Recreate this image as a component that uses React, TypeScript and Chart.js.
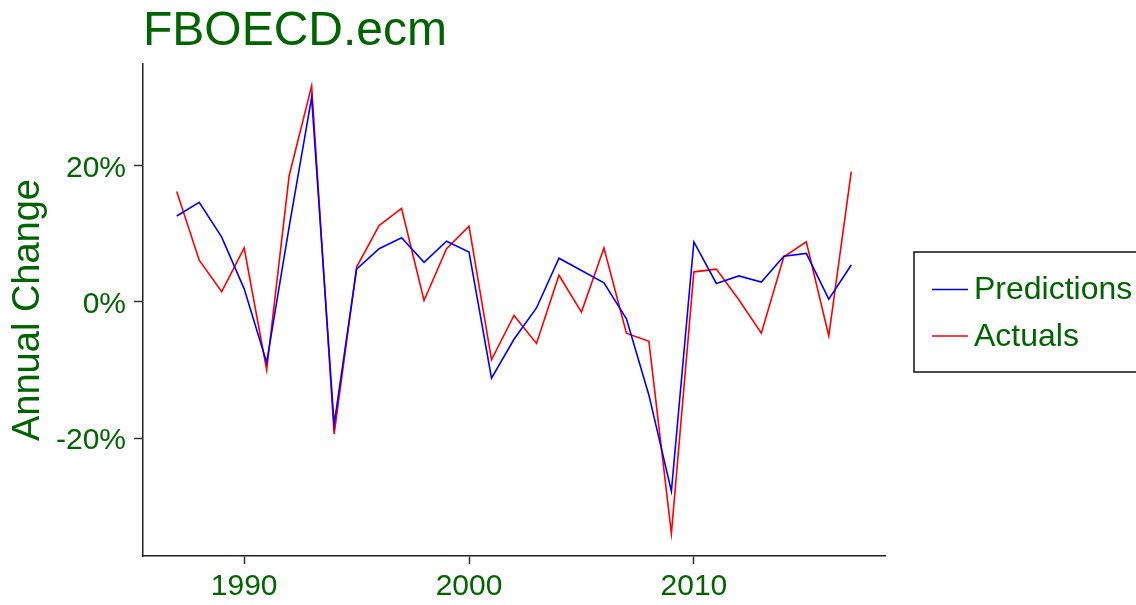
import React, { useEffect, useRef } from "react";
import { Chart, registerables } from "chart.js";

Chart.register(...registerables);

const TITLE = "FBOECD.ecm";
const Y_TITLE = "Annual Change";
const seriesLabels = ["Predictions", "Actuals"];
const seriesColors = ["#0000FF", "#FF0000"];

const years = [
  1987, 1988, 1989, 1990, 1991, 1992, 1993, 1994, 1995, 1996, 1997, 1998, 1999, 2000, 2001, 2002,
  2003, 2004, 2005, 2006, 2007, 2008, 2009, 2010, 2011, 2012, 2013, 2014, 2015, 2016, 2017,
];
const predictions = [
  12.6, 14.6, 9.5, 1.9, -8.9, 11.0, 30.0, -18.0, 4.8, 7.8, 9.4, 5.8, 8.9, 7.3, -11.2, -5.5,
  -0.9, 6.4, 4.6, 2.8, -2.5, -13.7, -27.8, 8.8, 2.7, 3.8, 2.9, 6.7, 7.1, 0.4, 5.4,
];
const actuals = [
  16.2, 6.1, 1.5, 7.9, -10.0, 18.5, 31.7, -19.4, 5.1, 11.2, 13.7, 0.2, 7.8, 11.1, -8.5, -2.0,
  -6.1, 3.9, -1.5, 7.9, -4.6, -5.8, -34.0, 4.4, 4.8, 0.3, -4.6, 6.6, 8.8, -5.0, 19.1,
];
const xTicks = [1990, 2000, 2010];
const yTicks = [-20, 0, 20];

const TEXT_COLOR = "#006400";
const FONT = "'Liberation Sans', Arial, sans-serif";

const overlayPlugin = {
  id: "overlay",
  afterDraw(chart: any) {
    const ctx = chart.ctx;
    ctx.save();
    // Title
    ctx.fillStyle = TEXT_COLOR;
    ctx.font = `48px ${FONT}`;
    ctx.textBaseline = "alphabetic";
    ctx.textAlign = "left";
    ctx.fillText(TITLE, chart.chartArea.left, 45);

    // Legend
    const boxX = 914;
    const boxY = 252;
    const boxW = 260;
    const boxH = 120;
    ctx.strokeStyle = "#111";
    ctx.lineWidth = 1.5;
    ctx.strokeRect(boxX, boxY, boxW, boxH);
    ctx.font = `32px ${FONT}`;
    ctx.textBaseline = "middle";
    chart.data.datasets.forEach((ds: any, i: number) => {
      const y = 289.5 + i * 46.5;
      ctx.strokeStyle = ds.borderColor;
      ctx.lineWidth = 1.5;
      ctx.beginPath();
      ctx.moveTo(932, y);
      ctx.lineTo(968, y);
      ctx.stroke();
      ctx.fillStyle = TEXT_COLOR;
      ctx.fillText(ds.label, 974, y + 1);
    });
    ctx.restore();
  },
};

export default function App() {
  const ref = useRef<HTMLCanvasElement | null>(null);

  useEffect(() => {
    if (!ref.current) return;
    const chart = new Chart(ref.current, {
      type: "line",
      data: {
        datasets: [
          {
            label: seriesLabels[0],
            data: years.map((y, i) => ({ x: y, y: predictions[i] })),
            borderColor: seriesColors[0],
            backgroundColor: seriesColors[0],
            borderWidth: 1.6,
            pointRadius: 0,
            tension: 0,
          },
          {
            label: seriesLabels[1],
            data: years.map((y, i) => ({ x: y, y: actuals[i] })),
            borderColor: seriesColors[1],
            backgroundColor: seriesColors[1],
            borderWidth: 1.6,
            pointRadius: 0,
            tension: 0,
          },
        ],
      },
      options: {
        responsive: false,
        animation: false,
        devicePixelRatio: 1,
        layout: { padding: { left: 0, top: 64, right: 251, bottom: 0 } },
        plugins: {
          legend: { display: false },
          tooltip: { enabled: false },
          title: { display: false },
        },
        scales: {
          x: {
            type: "linear",
            min: 1985.5,
            max: 2018.5,
            afterBuildTicks: (scale: any) => {
              scale.ticks = xTicks.map((v) => ({ value: v }));
            },
            afterFit: (scale: any) => {
              scale.height = 49;
            },
            grid: {
              display: true,
              drawOnChartArea: false,
              drawTicks: true,
              tickLength: 8,
              tickColor: "#333",
              tickWidth: 1.5,
            },
            border: { display: true, color: "#222", width: 1.5 },
            ticks: {
              color: TEXT_COLOR,
              font: { family: FONT, size: 30 },
              padding: 5,
              maxRotation: 0,
              autoSkip: false,
              callback: (v: any) => String(v),
            },
          },
          y: {
            type: "linear",
            min: -37.3,
            max: 34.9,
            afterBuildTicks: (scale: any) => {
              scale.ticks = yTicks.map((v) => ({ value: v }));
            },
            afterFit: (scale: any) => {
              scale.width = 143;
            },
            grid: {
              display: true,
              drawOnChartArea: false,
              drawTicks: true,
              tickLength: 9,
              tickColor: "#333",
              tickWidth: 1.5,
            },
            border: { display: true, color: "#222", width: 1.5 },
            ticks: {
              color: TEXT_COLOR,
              font: { family: FONT, size: 30 },
              padding: 8,
              labelOffset: 3,
              autoSkip: false,
              callback: (v: any) => `${v}%`,
            },
            title: {
              display: true,
              text: Y_TITLE,
              color: TEXT_COLOR,
              font: { family: FONT, size: 38 },
              padding: { top: 6, bottom: 0 },
            },
          },
        },
      },
      plugins: [overlayPlugin],
    });
    return () => chart.destroy();
  }, []);

  return (
    <div style={{ position: "fixed", left: 0, top: 0, width: 1136, height: 605, background: "#fff" }}>
      <canvas ref={ref} width={1136} height={605} style={{ display: "block" }} />
    </div>
  );
}
